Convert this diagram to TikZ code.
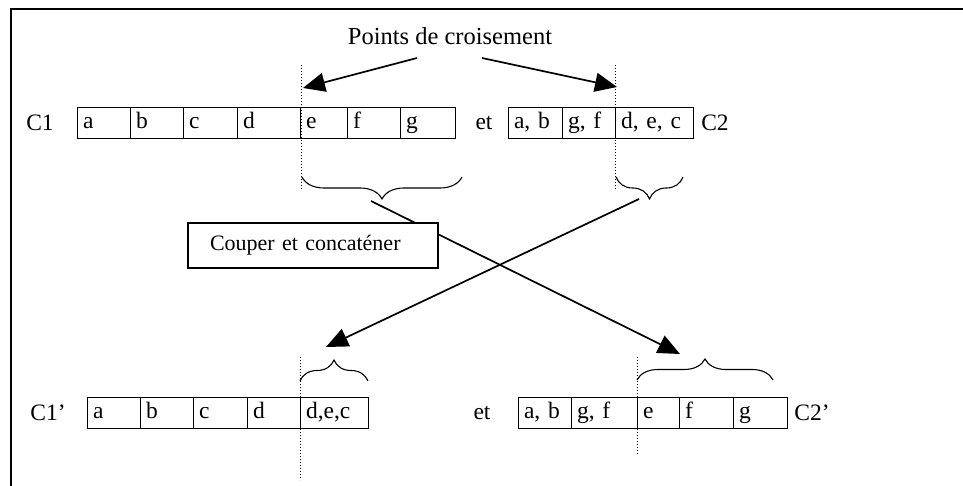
\documentclass[tikz,border=0pt]{standalone}
\usepackage{fontspec}
\setmainfont{Liberation Serif}
\usetikzlibrary{arrows.meta,decorations.pathreplacing}
\begin{document}
\begin{tikzpicture}[x=1pt,y=-1pt,
  every node/.style={font=\fontsize{23.5}{27}\selectfont},
  cell/.style={draw, line width=1pt, outer sep=0pt, inner xsep=6pt, inner ysep=0pt,
    minimum height=31pt, anchor=west, text width=#1, align=left,
    text height=16pt, text depth=5pt},
  lbl/.style={inner sep=0pt},
  cut/.style={line width=1pt, dotted},
  brc/.style={line width=1.1pt, decorate, decoration={brace, amplitude=#1}},
  link/.style={line width=1.7pt, -{Triangle[length=22pt,width=19pt]}},
  opbox/.style={draw, fill=white, line width=1.3pt, minimum height=45pt,
    text width=206pt, inner xsep=22pt, align=left, font=\fontsize{22}{26}\selectfont}
]
\useasboundingbox (0,0) rectangle (963,486);

% frame (top and left edges)
\draw[line width=1.4pt] (11,486) -- (11,9) -- (963,9);

% ---------- parents ----------
\node[lbl] (pts) at (450,36) {\fontsize{24.5}{28}\selectfont Points de croisement};

\node[lbl] (c1lab) at (40,123) {C1};
\node[cell=41] (c1a) at (77,123)  {a};
\node[cell=41] (c1b) at (130,123) {b};
\node[cell=42] (c1c) at (183,123) {c};
\node[cell=51] (c1d) at (237,123) {d};
\node[cell=35] (c1e) at (300,123) {e};
\node[cell=41] (c1f) at (347,123) {f};
\node[cell=43] (c1g) at (400,123) {g};

\node[lbl] (et1) at (484,123) {et};
\node[cell=42] (c2a) at (508,123) {a, b};
\node[cell=41] (c2b) at (562,123) {g, f};
\node[cell=66] (c2c) at (615,123) {d, e, c};
\node[lbl] (c2lab) at (715,123) {C2};

% crossover cuts
\coordinate (k1t) at (301,65);  \coordinate (k1b) at (301,190);
\coordinate (k2t) at (615,65);  \coordinate (k2b) at (615,190);
\draw[cut] (k1t) -- (k1b);
\draw[cut] (k2t) -- (k2b);

\coordinate (h1) at (303,88);
\coordinate (h2) at (617,87);
\coordinate (p1) at (417,58);
\coordinate (p2) at (482,58);
\draw[link] (p1) -- (h1);
\draw[link] (p2) -- (h2);

% tails marked by braces
\draw[brc=22pt] (462,177) -- (302,177);
\draw[brc=22pt] (683,177) -- (616,177);
\coordinate (t1) at (371,201);
\coordinate (t2) at (639,199);

% ---------- children ----------
\coordinate (e1) at (680,354);
\coordinate (e2) at (326,347);
\draw[link] (t1) -- (e1);
\draw[link] (t2) -- (e2);

\node[opbox] (op) at (313,245.5) {Couper et concaténer};

\node[lbl] (d1lab) at (48,413) {C1’};
\node[cell=41] (d1a) at (87,413)  {a};
\node[cell=41] (d1b) at (140,413) {b};
\node[cell=42] (d1c) at (193,413) {c};
\node[cell=41] (d1d) at (247,413) {d};
\node[cell=56] (d1e) at (300,413) {d,e,c};

\node[lbl] (et2) at (482,413) {et};
\node[cell=41] (d2a) at (518,413) {a, b};
\node[cell=54] (d2b) at (571,413) {g, f};
\node[cell=30] (d2c) at (637,413) {e};
\node[cell=42] (d2d) at (679,413) {f};
\node[cell=42] (d2e) at (733,413) {g};
\node[lbl] (d2lab) at (812,413) {C2’};

\coordinate (k3t) at (300,357);  \coordinate (k3b) at (300,480);
\coordinate (k4t) at (637,357);  \coordinate (k4b) at (637,455);
\draw[cut] (k3t) -- (k3b);
\draw[cut] (k4t) -- (k4b);

\draw[brc=21pt] (300,381) -- (368,381);
\draw[brc=21pt] (637,380) -- (773,380);
\end{tikzpicture}
\end{document}
